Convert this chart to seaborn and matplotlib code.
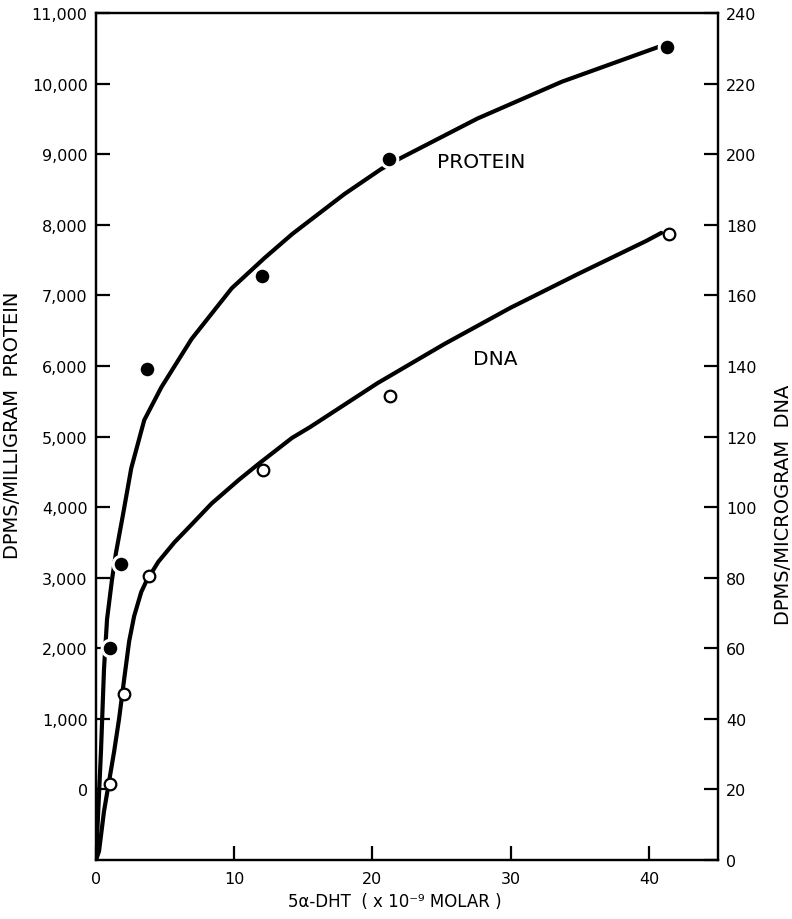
import matplotlib
matplotlib.use("Agg")
import matplotlib.pyplot as plt
import seaborn as sns
import pandas as pd
from matplotlib.ticker import FuncFormatter, FixedLocator

# ---- data ----
protein_conc = [1.0, 1.8, 3.7, 12.0, 21.2, 41.3]
protein_dpm = [2000, 3200, 5950, 7270, 8930, 10520]

dna_conc = [1.0, 2.0, 3.85, 12.1, 21.3, 41.45]
dna_dpm = [21.5, 47.0, 80.5, 110.5, 131.5, 177.5]

# hand-drawn fitted curves
protein_curve_x = [0, 0.36, 0.58, 0.8, 1.16, 1.45, 1.96, 2.55, 3.49, 4.73,
                   6.91, 9.82, 12.2, 14.2, 17.96, 20.6, 22.0, 27.6, 33.7, 40.7]
protein_curve_y = [-1000, 537, 1707, 2412, 2976, 3357, 3900, 4550, 5232, 5698,
                   6380, 7100, 7530, 7869, 8433, 8785, 8940, 9505, 10026, 10520]

dna_curve_x = [0, 0.22, 0.58, 1.31, 1.67, 2.04, 2.4, 2.76, 3.27, 3.64, 4.51,
               5.67, 6.9, 8.36, 10.33, 11.78, 14.18, 15.5, 20.36, 25.2, 30.0,
               34.9, 39.8, 40.9]
dna_curve_y = [0, 2.5, 13.8, 30.7, 40.0, 51.3, 62.0, 69.1, 75.9, 79.0, 84.5,
               90.0, 95.0, 101.0, 107.7, 112.3, 119.6, 122.7, 135.1, 146.2,
               156.5, 166.1, 175.4, 177.7]

left_ticks = [0, 1000, 2000, 3000, 4000, 5000, 6000, 7000, 8000, 9000, 10000, 11000]
right_ticks = [0, 20, 40, 60, 80, 100, 120, 140, 160, 180, 200, 220, 240]
x_ticks = [0, 10, 20, 30, 40]

# ---- styling ----
sns.set_theme(style="ticks")
plt.rcParams['font.family'] = ['DejaVu Sans']
plt.rcParams['axes.linewidth'] = 1.6
plt.rcParams['text.color'] = 'black'
plt.rcParams['axes.labelcolor'] = 'black'
plt.rcParams['xtick.color'] = 'black'
plt.rcParams['ytick.color'] = 'black'

fig = plt.figure(figsize=(7.92, 9.2), dpi=100)
ax = fig.add_axes([0.1212, 0.0641, 0.7854, 0.9207])
ax2 = ax.twinx()

# protein (left axis)
sns.lineplot(x=protein_curve_x, y=protein_curve_y, ax=ax, color='black',
             lw=3.0, sort=False, estimator=None, zorder=2,
             solid_joinstyle='round', solid_capstyle='round')
ax.scatter(protein_conc, protein_dpm, s=200, color='white', zorder=3, linewidths=0)
sns.scatterplot(x=protein_conc, y=protein_dpm, ax=ax, s=95, color='black',
                edgecolor='black', linewidth=0, zorder=4)

# DNA (right axis)
sns.lineplot(x=dna_curve_x, y=dna_curve_y, ax=ax2, color='black',
             lw=3.0, sort=False, estimator=None, zorder=2,
             solid_joinstyle='round', solid_capstyle='round')
sns.scatterplot(x=dna_conc, y=dna_dpm, ax=ax2, s=70, facecolor='white',
                edgecolor='black', linewidth=1.6, zorder=4)

ax.set_xlim(0, 45)
ax.set_ylim(-1000, 11000)
ax2.set_ylim(0, 240)

ax.xaxis.set_major_locator(FixedLocator(x_ticks))
ax.yaxis.set_major_locator(FixedLocator(left_ticks))
ax2.yaxis.set_major_locator(FixedLocator(right_ticks))
ax.yaxis.set_major_formatter(FuncFormatter(lambda v, p: f"{int(v):,}"))

tick_kw = dict(direction='in', length=10, width=1.6, labelsize=11.5,
               colors='black')
ax.tick_params(axis='x', pad=8, **tick_kw)
ax.tick_params(axis='y', left=True, right=False, pad=6, **tick_kw)
ax2.tick_params(axis='y', left=False, right=True, pad=6, **tick_kw)

for a in (ax, ax2):
    for s in a.spines.values():
        s.set_visible(True)
        s.set_color('black')
        s.set_linewidth(1.6)

ax.text(27.9, 8900, "PROTEIN", ha='center', va='center', fontsize=14.5,
        color='black')
ax2.text(28.9, 142, "DNA", ha='center', va='center', fontsize=14.5,
         color='black')

ax.set_xlabel("5α-DHT  ( x 10⁻⁹ MOLAR )", fontsize=12, color='black')
ax.xaxis.set_label_coords(0.481, -0.048)
ax.xaxis.label.set_va('center')

ax.set_ylabel("DPMS/MILLIGRAM  PROTEIN", fontsize=14, color='black')
ax.yaxis.set_label_coords(-0.135, 0.514)
ax.yaxis.label.set_va('center')

ax2.set_ylabel("DPMS/MICROGRAM  DNA", fontsize=14, rotation=90, color='black')
ax2.yaxis.set_label_coords(1.1045, 0.42)
ax2.yaxis.label.set_va('center')

fig.savefig("out.png", dpi=100)
